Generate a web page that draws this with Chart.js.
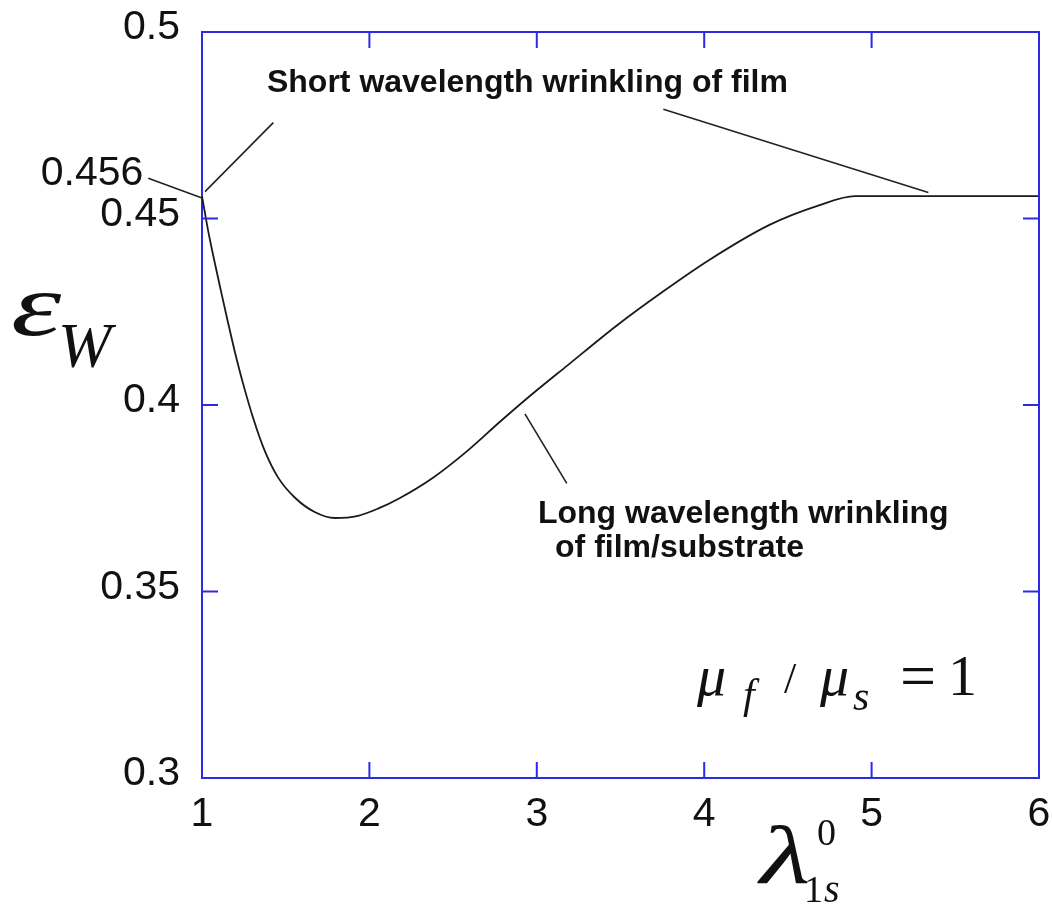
<!DOCTYPE html>
<html>
<head>
<meta charset="utf-8">
<title>Wrinkling strain</title>
<script src="https://cdn.jsdelivr.net/npm/chart.js@4/dist/chart.umd.min.js"></script>
<style>
  body { margin: 0; background: #fff; }
  canvas { display: block; }
</style>
</head>
<body>
<canvas id="wrinkleChart" width="1052" height="911"></canvas>
<script>
// critical wrinkling strain vs. pre-stretch of substrate
var stretchVals = [1, 1.036, 1.076, 1.115, 1.155, 1.195, 1.245, 1.305, 1.375, 1.454, 1.554, 1.673,
                   1.793, 1.932, 2.051, 2.18, 2.38, 2.58, 2.78, 2.98, 3.18, 3.48, 3.75, 4.03,
                   4.39, 4.69, 4.9, 6];
var strainVals = [0.456, 0.4469, 0.4382, 0.4302, 0.4222, 0.4145, 0.4058, 0.3966, 0.3877, 0.3806, 0.3752, 0.3713,
                  0.3697, 0.3703, 0.3722, 0.375, 0.3805, 0.3875, 0.3955, 0.4032, 0.4105, 0.4214, 0.4303, 0.4389,
                  0.4483, 0.4536, 0.456, 0.456];

var xTickLabels = ['1', '2', '3', '4', '5', '6'];
var yTickLabels = ['0.3', '0.35', '0.4', '0.45', '0.5'];

var axisBlue = '#2b2be6';
var sansFont = '"Liberation Sans", Arial, sans-serif';
var serifFont = '"Liberation Serif", "Times New Roman", serif';

// callouts (data coordinates)
var leaders = [
  [[1.426, 0.4757], [1.018, 0.4572]],
  [[3.756, 0.4793], [5.339, 0.457]],
  [[0.679, 0.4608], [1.0, 0.4555]],
  [[2.929, 0.3976], [3.179, 0.379]]
];
var notes = [
  { text: 'Short wavelength wrinkling of film', x: 1.388, y: 0.4839 },
  { text: 'Long wavelength wrinkling', x: 3.007, y: 0.3684 },
  { text: 'of film/substrate', x: 3.109, y: 0.3592 }
];

function drawRuns(ctx, runs) {
  runs.forEach(function (r) {
    ctx.save();
    ctx.font = r.font;
    ctx.translate(r.x, r.y);
    if (r.sx) ctx.scale(r.sx, 1);
    ctx.fillText(r.t, 0, 0);
    ctx.restore();
  });
}

var framePlugin = {
  id: 'framePlugin',
  afterDraw: function (chart) {
    var ctx = chart.ctx, a = chart.chartArea;
    var xs = chart.scales.x, ys = chart.scales.y;
    ctx.save();

    // top/right frame and inward ticks on all four sides
    ctx.strokeStyle = axisBlue;
    ctx.lineWidth = 2;
    ctx.beginPath();
    ctx.moveTo(a.left, a.top);
    ctx.lineTo(a.right, a.top);
    ctx.lineTo(a.right, a.bottom);
    xs.ticks.forEach(function (t) {
      if (t.value <= xs.min || t.value >= xs.max) return;
      var px = xs.getPixelForValue(t.value);
      ctx.moveTo(px, a.bottom); ctx.lineTo(px, a.bottom - 16);
      ctx.moveTo(px, a.top); ctx.lineTo(px, a.top + 16);
    });
    ys.ticks.forEach(function (t) {
      if (t.value <= ys.min + 1e-9 || t.value >= ys.max - 1e-9) return;
      var py = ys.getPixelForValue(t.value);
      ctx.moveTo(a.left, py); ctx.lineTo(a.left + 16, py);
      ctx.moveTo(a.right, py); ctx.lineTo(a.right - 16, py);
    });
    ctx.stroke();

    // leader lines
    ctx.strokeStyle = '#222';
    ctx.lineWidth = 1.6;
    ctx.beginPath();
    leaders.forEach(function (l) {
      ctx.moveTo(xs.getPixelForValue(l[0][0]), ys.getPixelForValue(l[0][1]));
      ctx.lineTo(xs.getPixelForValue(l[1][0]), ys.getPixelForValue(l[1][1]));
    });
    ctx.stroke();

    // callout texts
    ctx.fillStyle = '#111';
    ctx.textBaseline = 'alphabetic';
    ctx.textAlign = 'left';
    ctx.font = 'bold 32px ' + sansFont;
    notes.forEach(function (n) {
      ctx.fillText(n.text, xs.getPixelForValue(n.x), ys.getPixelForValue(n.y));
    });

    // start value label
    ctx.font = '41px ' + sansFont;
    ctx.textAlign = 'right';
    ctx.fillText(String(strainVals[0]), xs.getPixelForValue(0.6493), ys.getPixelForValue(0.459));

    // math labels
    ctx.textAlign = 'left';
    drawRuns(ctx, [
      { t: '\u03B5', font: 'italic 88px ' + serifFont, x: 11, y: 335, sx: 1.45 },
      { t: 'W', font: 'italic 64px ' + serifFont, x: 58, y: 367 }
    ]);
    drawRuns(ctx, [
      { t: '\u03BB', font: 'italic 82px ' + serifFont, x: 760, y: 883, sx: 1.42 },
      { t: '0', font: '38px ' + serifFont, x: 817, y: 845 },
      { t: '1', font: '38px ' + serifFont, x: 804, y: 902 },
      { t: 's', font: 'italic 40px ' + serifFont, x: 824, y: 902 }
    ]);
    drawRuns(ctx, [
      { t: '\u03BC', font: 'italic 58px ' + serifFont, x: 697, y: 695 },
      { t: 'f', font: 'italic 42px ' + serifFont, x: 743, y: 708 },
      { t: '/', font: '44px ' + serifFont, x: 784, y: 693 },
      { t: '\u03BC', font: 'italic 58px ' + serifFont, x: 820, y: 695 },
      { t: 's', font: 'italic 42px ' + serifFont, x: 853, y: 710 },
      { t: '=', font: '64px ' + serifFont, x: 900, y: 697 },
      { t: '1', font: '58px ' + serifFont, x: 948, y: 695 }
    ]);
    ctx.restore();
  }
};

var points = stretchVals.map(function (x, i) { return { x: x, y: strainVals[i] }; });

new Chart(document.getElementById('wrinkleChart'), {
  type: 'line',
  data: {
    datasets: [{
      data: points,
      borderColor: '#1a1a1a',
      borderWidth: 1.8,
      pointRadius: 0,
      cubicInterpolationMode: 'monotone',
      fill: false
    }]
  },
  options: {
    responsive: false,
    animation: false,
    devicePixelRatio: 1,
    layout: { padding: { top: 32, right: 13, left: 0, bottom: 0 } },
    plugins: { legend: { display: false }, tooltip: { enabled: false } },
    scales: {
      x: {
        type: 'linear',
        min: 1, max: 6,
        grid: { drawOnChartArea: false, drawTicks: true, tickLength: 12, tickColor: 'rgba(0,0,0,0)' },
        border: { color: axisBlue, width: 2 },
        ticks: {
          stepSize: 1,
          padding: 0,
          color: '#111',
          font: { family: sansFont, size: 41 },
          maxRotation: 0,
          callback: function (v, i) { return xTickLabels[i]; }
        },
        afterFit: function (s) { s.height = 133; }
      },
      y: {
        min: 0.3, max: 0.5,
        grid: { drawOnChartArea: false, drawTicks: true, tickLength: 22, tickColor: 'rgba(0,0,0,0)' },
        border: { color: axisBlue, width: 2 },
        ticks: {
          stepSize: 0.05,
          padding: 0,
          labelOffset: -4,
          color: '#111',
          font: { family: sansFont, size: 41 },
          callback: function (v, i) { return yTickLabels[i]; }
        },
        afterFit: function (s) { s.width = 202; }
      }
    }
  },
  plugins: [framePlugin]
});
</script>
</body>
</html>
